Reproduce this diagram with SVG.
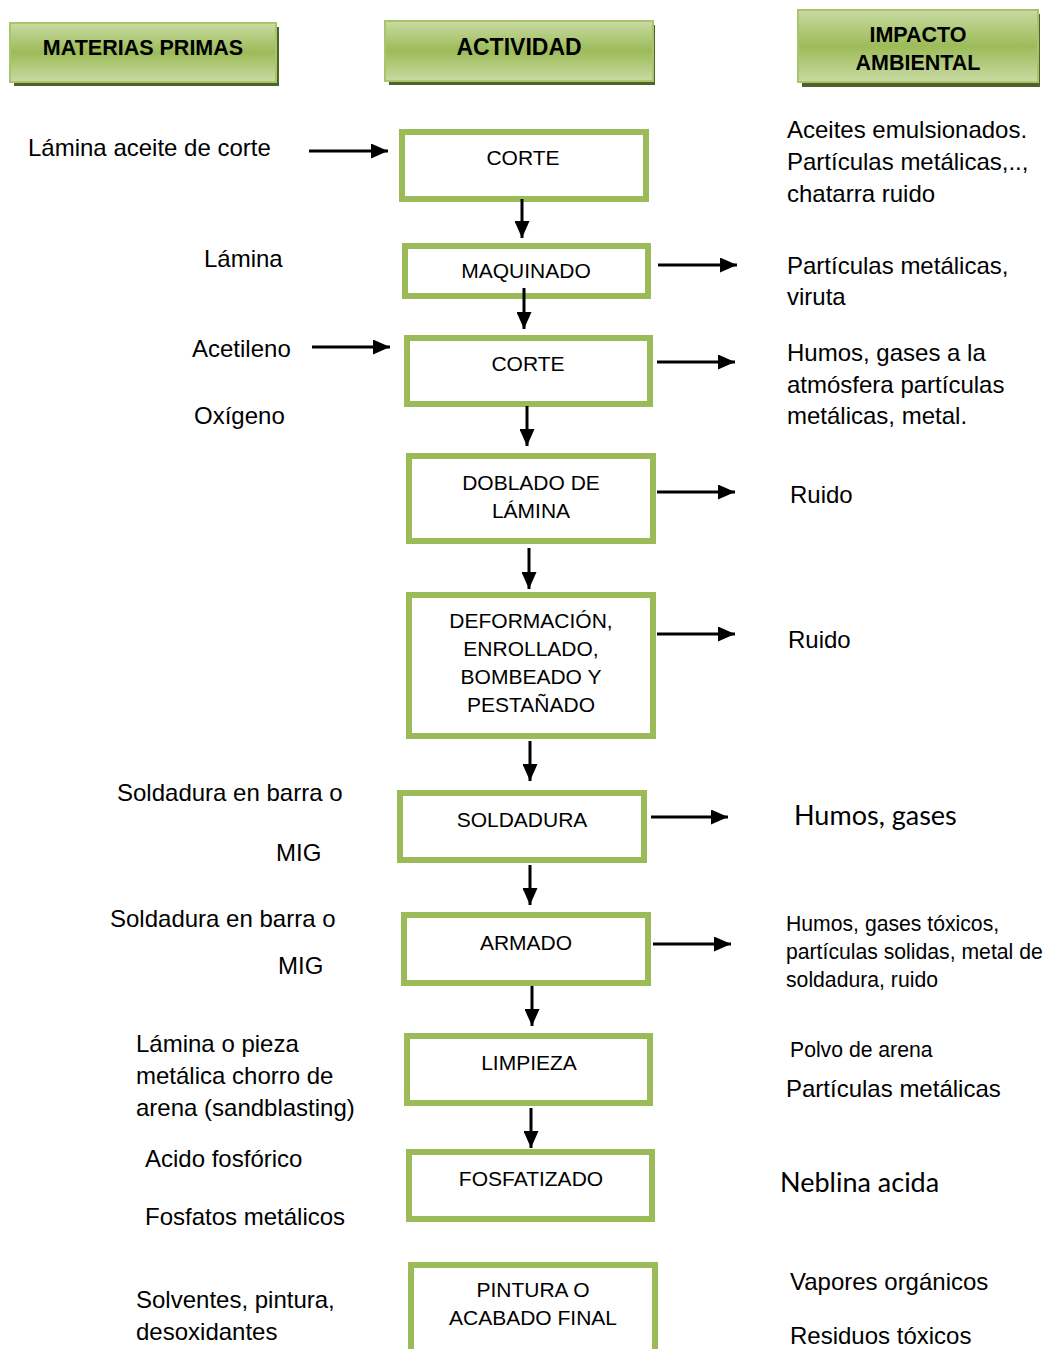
<svg xmlns="http://www.w3.org/2000/svg" width="1045" height="1349" viewBox="0 0 1045 1349">
<defs>
<linearGradient id="hg" x1="0" y1="0" x2="0" y2="1">
<stop offset="0" stop-color="#C9DBA3"/>
<stop offset="0.5" stop-color="#9CBB58"/>
<stop offset="1" stop-color="#C9DBA3"/>
</linearGradient>
<marker id="ah" markerUnits="userSpaceOnUse" markerWidth="17" markerHeight="15" refX="17" refY="7.5" orient="auto">
<path d="M0,0 L17,7.5 L0,15 z" fill="#000"/>
</marker>
</defs>
<style>
.hdr{fill:url(#hg);stroke:#A9C46C;stroke-width:2}
.shd{fill:#4F6228}
.ht{font-family:"Liberation Sans",Arial,sans-serif;font-weight:bold;font-size:21.5px;fill:#000;text-anchor:middle}
.box{fill:#fff;stroke:#9BBB59;stroke-width:6}
.bt{font-family:"Liberation Sans",Arial,sans-serif;font-size:21px;fill:#000;text-anchor:middle}
.lt{font-family:"Liberation Sans",Arial,sans-serif;font-size:24px;fill:#000}
.rt{font-family:"Liberation Sans",Arial,sans-serif;font-size:24px;fill:#000}
.st{font-family:"Liberation Sans",Arial,sans-serif;font-size:21.2px;fill:#000}
.cal{font-family:Lato,"Liberation Sans",sans-serif;font-size:27px;fill:#000}
.cn{stroke:#000;stroke-width:3;fill:none;marker-end:url(#ah)}
</style>

<g id="hdr-materias">
<rect class="shd" x="14" y="27" width="265" height="59"/>
<rect class="hdr" x="10" y="23" width="266" height="59"/>
<text class="ht" x="143" y="55">MATERIAS PRIMAS</text>
</g>
<g id="hdr-actividad">
<rect class="shd" x="389" y="25" width="266" height="60"/>
<rect class="hdr" x="385" y="21" width="268" height="60"/>
<text class="ht" x="519" y="55" style="font-size:23px">ACTIVIDAD</text>
</g>
<g id="hdr-impacto">
<rect class="shd" x="802" y="14" width="238" height="73"/>
<rect class="hdr" x="798" y="10" width="240" height="72"/>
<text class="ht" x="918" y="42">IMPACTO</text>
<text class="ht" x="918" y="70">AMBIENTAL</text>
</g>

<g id="n-corte1"><rect class="box" x="402" y="132" width="244" height="67"/><text class="bt" x="523" y="165">CORTE</text></g>
<g id="n-maquinado"><rect class="box" x="405" y="246" width="243" height="50"/><text class="bt" x="526" y="278">MAQUINADO</text></g>
<g id="n-corte2"><rect class="box" x="407" y="338" width="243" height="66"/><text class="bt" x="528" y="371">CORTE</text></g>
<g id="n-doblado"><rect class="box" x="409" y="456" width="244" height="85"/><text class="bt" x="531" y="490">DOBLADO DE</text><text class="bt" x="531" y="518">LÁMINA</text></g>
<g id="n-deformacion"><rect class="box" x="409" y="595" width="244" height="141"/><text class="bt" x="531" y="628">DEFORMACIÓN,</text><text class="bt" x="531" y="656">ENROLLADO,</text><text class="bt" x="531" y="684">BOMBEADO Y</text><text class="bt" x="531" y="712">PESTAÑADO</text></g>
<g id="n-soldadura"><rect class="box" x="400" y="793" width="244" height="67"/><text class="bt" x="522" y="827">SOLDADURA</text></g>
<g id="n-armado"><rect class="box" x="404" y="915" width="244" height="68"/><text class="bt" x="526" y="950">ARMADO</text></g>
<g id="n-limpieza"><rect class="box" x="407" y="1036" width="243" height="67"/><text class="bt" x="529" y="1070">LIMPIEZA</text></g>
<g id="n-fosfatizado"><rect class="box" x="409" y="1152" width="243" height="67"/><text class="bt" x="531" y="1186">FOSFATIZADO</text></g>
<g id="n-pintura"><rect class="box" x="411" y="1265" width="244" height="90"/><text class="bt" x="533" y="1297">PINTURA O</text><text class="bt" x="533" y="1325">ACABADO FINAL</text></g>

<g id="inputs">
<text class="lt" x="28" y="156">Lámina aceite de corte</text>
<text class="lt" x="204" y="267">Lámina</text>
<text class="lt" x="192" y="357">Acetileno</text>
<text class="lt" x="194" y="424">Oxígeno</text>
<text class="lt" x="117" y="801">Soldadura en barra o</text>
<text class="lt" x="276" y="861">MIG</text>
<text class="lt" x="110" y="927">Soldadura en barra o</text>
<text class="lt" x="278" y="974">MIG</text>
<text class="lt" x="136" y="1052">Lámina o pieza</text>
<text class="lt" x="136" y="1084">metálica chorro de</text>
<text class="lt" x="136" y="1116">arena (sandblasting)</text>
<text class="lt" x="145" y="1167">Acido fosfórico</text>
<text class="lt" x="145" y="1225">Fosfatos metálicos</text>
<text class="lt" x="136" y="1308">Solventes, pintura,</text>
<text class="lt" x="136" y="1340">desoxidantes</text>
</g>

<g id="impacts">
<text class="rt" x="787" y="138">Aceites emulsionados.</text>
<text class="rt" x="787" y="170">Partículas metálicas,..,</text>
<text class="rt" x="787" y="202">chatarra ruido</text>
<text class="rt" x="787" y="274">Partículas metálicas,</text>
<text class="rt" x="787" y="305">viruta</text>
<text class="rt" x="787" y="361">Humos, gases a la</text>
<text class="rt" x="787" y="393">atmósfera partículas</text>
<text class="rt" x="787" y="424">metálicas, metal.</text>
<text class="rt" x="790" y="503">Ruido</text>
<text class="rt" x="788" y="648">Ruido</text>
<text class="cal" x="794" y="825">Humos, gases</text>
<text class="st" x="786" y="931">Humos, gases tóxicos,</text>
<text class="st" x="786" y="959">partículas solidas, metal de</text>
<text class="st" x="786" y="987">soldadura, ruido</text>
<text class="st" x="790" y="1057">Polvo de arena</text>
<text class="rt" x="786" y="1097">Partículas metálicas</text>
<text class="cal" x="780" y="1192">Neblina acida</text>
<text class="rt" x="790" y="1290">Vapores orgánicos</text>
<text class="rt" x="790" y="1344">Residuos tóxicos</text>
</g>

<g id="connectors">
<line class="cn" x1="309" y1="151" x2="388" y2="151"/>
<line class="cn" x1="312" y1="347" x2="390" y2="347"/>
<line class="cn" x1="522" y1="199" x2="522" y2="238"/>
<line class="cn" x1="524" y1="288" x2="524" y2="329"/>
<line class="cn" x1="527" y1="406" x2="527" y2="446"/>
<line class="cn" x1="529" y1="548" x2="529" y2="589"/>
<line class="cn" x1="530" y1="741" x2="530" y2="781"/>
<line class="cn" x1="530" y1="865" x2="530" y2="905"/>
<line class="cn" x1="532" y1="986" x2="532" y2="1026"/>
<line class="cn" x1="531" y1="1108" x2="531" y2="1148"/>
<line class="cn" x1="658" y1="265" x2="737" y2="265"/>
<line class="cn" x1="657" y1="362" x2="735" y2="362"/>
<line class="cn" x1="657" y1="492" x2="735" y2="492"/>
<line class="cn" x1="657" y1="634" x2="735" y2="634"/>
<line class="cn" x1="651" y1="817" x2="728" y2="817"/>
<line class="cn" x1="653" y1="944" x2="731" y2="944"/>
</g>
</svg>
